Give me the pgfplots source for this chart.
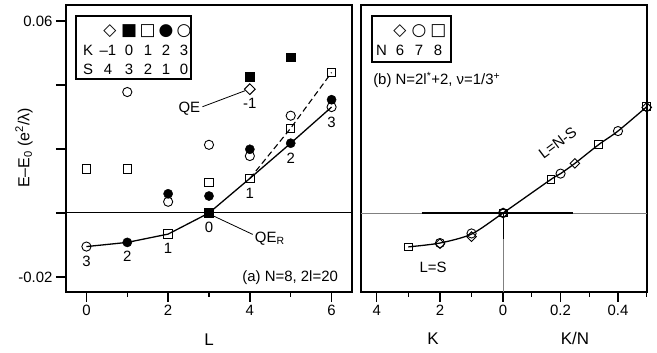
\documentclass[border=0pt]{standalone}
\usepackage{pgfplots}
\pgfplotsset{compat=1.18}
\usepackage{fontspec}
\setmainfont{Liberation Sans}
\newfontfamily\symfont{DejaVu Sans}

\newcommand\fs[1]{\fontsize{#1}{#1}\selectfont}

\pgfplotsset{
  panel/.style={
    scale only axis, width=286bp, height=287bp,
    ymin=-0.0247, ymax=0.065,
    scaled y ticks=false, scaled x ticks=false,
    axis line style={line width=1.7bp},
    every tick/.style={line width=1.3bp, black},
    tick align=outside,
    major tick length=10bp, minor tick length=5bp,
    xtick pos=bottom, ytick pos=left,
    tick label style={font=\fs{15}},
    /pgf/number format/assume math mode=true,
    clip=false,
  },
  omark/.style={only marks, mark options={solid, line width=0.9bp, fill=none}},
  dmark/.style={only marks, mark=square, mark options={solid, line width=0.9bp, fill=none, rotate=45}},
}

\begin{document}
\begin{tikzpicture}
\path (0,0) rectangle (657bp,353bp);

% ---------------- panel (a) ----------------
\begin{axis}[panel, at={(66bp,61bp)}, anchor=south west,
  xmin=-0.5, xmax=6.5,
  xtick={0,2,4,6}, minor xtick={1,3,5},
  ytick={-0.02,0,0.02,0.04,0.06},
  yticklabels={-0.02,,,,0.06},
]
\draw[line width=1bp] (axis cs:-0.5,0) -- (axis cs:6.5,0);

% lowest branch and its continuation
\addplot[line width=1.3bp, mark=none] coordinates {
  (0,-0.0105) (1,-0.0092) (2,-0.0066) (3,0) (4,0.0108) (5,0.0218) (6,0.0331)};
\addplot[line width=1.1bp, mark=none, dash pattern=on 6bp off 3.5bp] coordinates {
  (4,0.0108) (5,0.0265) (6,0.0439)};

% K = 3 (open circles)
\addplot[omark, mark=o, mark size=4.6bp] coordinates {
  (0,-0.0105) (1,0.0378) (2,0.0035) (3,0.0213) (4,0.0178) (5,0.0304) (6,0.0331)};
% K = 1 (open squares)
\addplot[omark, mark=square, mark size=4.2bp] coordinates {
  (0,0.0138) (1,0.0138) (2,-0.0066) (3,0.0095) (4,0.0108) (5,0.0265) (6,0.0439)};
% K = -1 (diamond)
\addplot[dmark, mark size=3.8bp] coordinates {
  (4,0.0387)};
% K = 2 (filled circles)
\addplot[only marks, mark=*, mark size=4.6bp, mark options={fill=black}] coordinates {
  (1,-0.0092) (2,0.0060) (3,0.0053) (4,0.0199) (5,0.0218) (6,0.0354)};
% K = 0 (filled squares)
\addplot[only marks, mark=square*, mark size=4.4bp, mark options={fill=black}] coordinates {
  (3,0) (4,0.0425) (5,0.0487)};

% |K| along the lowest branch
\begin{scope}[font=\fs{15}]
\node at (axis cs:0,-0.0150) {3};
\node at (axis cs:1,-0.0136) {2};
\node at (axis cs:2,-0.0111) {1};
\node at (axis cs:3,-0.0046) {0};
\node at (axis cs:4,0.0061) {1};
\node at (axis cs:5,0.0171) {2};
\node at (axis cs:6,0.0282) {3};
\node at (axis cs:4,0.0342) {-1};
\node at (axis cs:2.52,0.0327) {QE};
\node[anchor=west, inner sep=0] at (axis cs:4.12,-0.0081) {QE\textsubscript{R}};
\node[anchor=east, inner sep=0] at (axis cs:6.16,-0.0201) {(a) N=8, 2l=20};
\end{scope}
\draw[line width=0.8bp] (axis cs:2.84,0.0332) -- (axis cs:3.88,0.0382);
\draw[line width=0.8bp] (axis cs:3.12,-0.0010) -- (axis cs:4.07,-0.0067);
\end{axis}

% ---------------- panel (b) ----------------
% left half: -0.11*K ; right half: K/N
\begin{axis}[panel, at={(360.7bp,61bp)}, anchor=south west,
  xmin=-0.496, xmax=0.5,
  xtick={-0.44,-0.22,0,0.2,0.4}, xticklabels={4,2,0,0.2,0.4},
  minor xtick={-0.33,-0.11,0.1,0.3,0.5},
  ytick=\empty,
]
\draw[line width=0.6bp, gray] (axis cs:-0.496,0) -- (axis cs:0.5,0);
\draw[line width=1.2bp] (axis cs:-0.284,0) -- (axis cs:0.245,0);
\draw[line width=0.6bp, gray] (axis cs:0,0) -- (axis cs:0,-0.0247);
\draw[line width=1.2bp] (axis cs:0,0) -- (axis cs:0,-0.008);

\addplot[line width=1.3bp, mark=none, smooth, tension=0.45] coordinates {
  (-0.33,-0.0106) (-0.22,-0.0094) (-0.11,-0.0066) (0,0)
  (0.1667,0.0105) (0.2,0.0123) (0.25,0.0155) (0.3333,0.0214) (0.4,0.0256) (0.5,0.0332)};

% N = 8 (squares)
\addplot[omark, mark=square, mark size=3.9bp] coordinates {
  (-0.33,-0.0106) (0,0) (0.1667,0.0105) (0.3333,0.0214) (0.5,0.0334)};
% N = 7 (circles)
\addplot[omark, mark=o, mark size=4.6bp] coordinates {
  (-0.22,-0.0094) (-0.11,-0.0064) (0,0) (0.2,0.0123) (0.4,0.0256)};
% N = 6 (diamonds)
\addplot[dmark, mark size=3.4bp] coordinates {
  (-0.22,-0.0096) (-0.11,-0.0074) (0,0) (0.25,0.0155) (0.5,0.0330)};

\begin{scope}[font=\fs{15}]
\node[anchor=west, inner sep=0] at (axis cs:-0.453,0.0415)
  {(b) N=2l\textsuperscript{*}+2, ν=1/3\textsuperscript{+}};
\node[rotate=37] at (axis cs:0.19,0.0219) {L=N-S};
\node at (axis cs:-0.244,-0.0171) {L=S};
\end{scope}
\end{axis}

% axis titles
\node[rotate=90, font=\fs{16}] at (24bp,205bp) {E–E\textsubscript{0} (e\textsuperscript{2}/λ)};
\node[font=\fs{17}] at (209bp,13.5bp) {L};
\node[font=\fs{17}] at (433bp,14.7bp) {K};
\node[font=\fs{17}] at (575bp,14.7bp) {K/N};

% key, panel (a)
\draw[line width=1.7bp] (75.7bp,337.3bp) rectangle (191bp,274bp);
\begin{scope}[font=\symfont\fs{17}]
\node at (110bp,322.3bp) {◇};
\node at (129bp,322.3bp) {■};
\node at (147.7bp,322.3bp) {□};
\node at (166bp,322.3bp) {●};
\node at (184bp,322.3bp) {○};
\end{scope}
\begin{scope}[font=\fs{15}]
\node at (88bp,303bp) {K};
\node at (108bp,303bp) {–1};
\node at (129bp,303bp) {0};
\node at (148bp,303bp) {1};
\node at (166bp,303bp) {2};
\node at (184bp,303bp) {3};
\node at (88bp,284bp) {S};
\node at (108bp,284bp) {4};
\node at (129bp,284bp) {3};
\node at (148bp,284bp) {2};
\node at (166bp,284bp) {1};
\node at (184bp,284bp) {0};
\end{scope}

% key, panel (b)
\draw[line width=1.7bp] (371.7bp,337.3bp) rectangle (451bp,291.3bp);
\begin{scope}[font=\symfont\fs{17}]
\node at (400bp,322.3bp) {◇};
\node at (419bp,322.3bp) {○};
\node at (438.3bp,322.3bp) {□};
\end{scope}
\begin{scope}[font=\fs{15}]
\node at (381.5bp,303bp) {N};
\node at (400bp,303bp) {6};
\node at (419bp,303bp) {7};
\node at (438bp,303bp) {8};
\end{scope}
\end{tikzpicture}
\end{document}
